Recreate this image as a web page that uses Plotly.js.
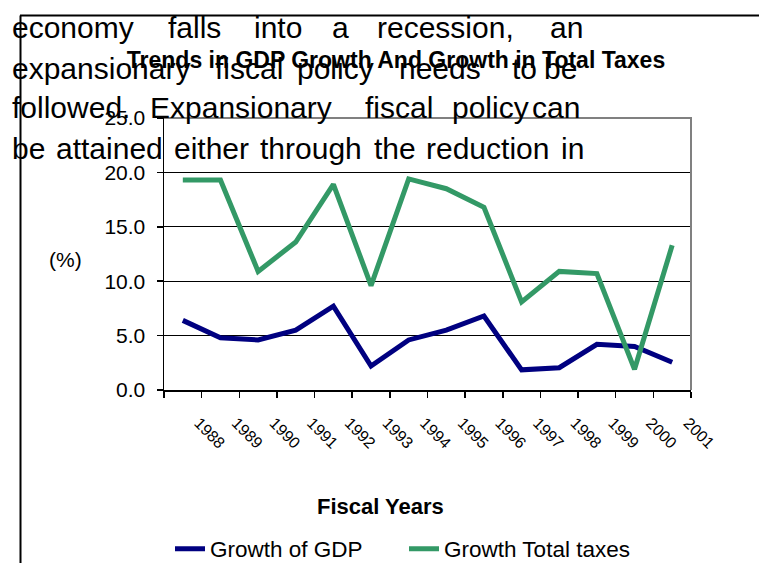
<!DOCTYPE html>
<html>
<head>
<meta charset="utf-8">
<script src="https://cdn.plot.ly/plotly-3.0.1.min.js"></script>
<style>html,body{margin:0;padding:0;background:#fff;}#chart{width:759px;height:563px;}</style>
</head>
<body>
<div id="chart"></div>
<script>
// ---- data ----
const years = ['1988','1989','1990','1991','1992','1993','1994','1995','1996','1997','1998','1999','2000','2001'];
const growthGDP = [6.4, 4.8, 4.6, 5.5, 7.7, 2.2, 4.6, 5.5, 6.8, 1.85, 2.05, 4.2, 4.0, 2.55];
const growthTaxes = [19.3, 19.3, 10.9, 13.6, 18.9, 9.6, 19.4, 18.5, 16.8, 8.1, 10.9, 10.7, 1.9, 13.3];
const seriesNames = ['Growth of GDP', 'Growth Total taxes'];
const yTicks = [0, 5, 10, 15, 20, 25];

// ---- layout helpers (pixel -> paper) ----
const W = 759, H = 563, L = 164, R = 691, T = 118, B = 390;
const px = x => (x - L) / (R - L);
const py = y => (B - y) / (B - T);
const FONT = 'Liberation Sans, Arial, sans-serif';

// overlapping document text (justified paragraph above the chart)
const docLines = [
  {y: 27, words: [['economy', 10], ['falls', 166], ['into', 252], ['a', 330], ['recession,', 375], ['an', 548]]},
  {y: 68, words: [['expansionary', 10], ['fiscal', 213], ['policy', 295], ['needs', 397], ['to', 510], ['be', 542]]},
  {y: 108, words: [['followed.', 10], ['Expansionary', 148], ['fiscal', 363], ['policy', 450], ['can', 530]]},
  {y: 148, words: [['be', 10], ['attained', 54], ['either', 172], ['through', 258], ['the', 372], ['reduction', 424], ['in', 559]]}
];

const annotations = [];
docLines.forEach(line => {
  line.words.forEach(([w, x]) => {
    annotations.push({
      text: w, xref: 'paper', yref: 'paper', x: px(x), y: py(line.y),
      xanchor: 'left', yanchor: 'middle', showarrow: false,
      font: {family: FONT, size: 30, color: '#000'}
    });
  });
});
annotations.push({
  text: '(%)', xref: 'paper', yref: 'paper', x: px(65.5), y: py(259),
  xanchor: 'center', yanchor: 'middle', showarrow: false,
  font: {family: FONT, size: 21, color: '#000'}
});
annotations.push({
  text: '<b>Fiscal Years</b>', xref: 'paper', yref: 'paper', x: px(380), y: py(506),
  xanchor: 'center', yanchor: 'middle', showarrow: false,
  font: {family: FONT, size: 22, color: '#000'}
});

const traces = [
  {x: years, y: growthGDP, name: seriesNames[0], type: 'scatter', mode: 'lines',
   line: {color: '#000080', width: 5}},
  {x: years, y: growthTaxes, name: seriesNames[1], type: 'scatter', mode: 'lines',
   line: {color: '#339966', width: 5}}
];

const layout = {
  width: W, height: H,
  margin: {l: L, r: W - R, t: T, b: H - B, pad: 0, autoexpand: false},
  paper_bgcolor: '#fff', plot_bgcolor: '#fff',
  font: {family: FONT, color: '#000'},
  title: {
    text: '<b>Trends in GDP Growth And Growth in Total Taxes</b>',
    font: {family: FONT, size: 23, color: '#000'},
    xref: 'container', yref: 'container', x: 396 / W, y: 1 - 60 / H,
    xanchor: 'center', yanchor: 'middle'
  },
  xaxis: {
    type: 'category', range: [-0.5, years.length - 0.5],
    tickson: 'boundaries', ticks: 'outside', ticklen: 6, tickwidth: 1.5, tickcolor: '#000',
    showline: true, linecolor: '#000', linewidth: 1.5,
    showgrid: false, zeroline: false, tickangle: 45,
    ticklabelstandoff: 16, ticklabelshift: 16,
    tickfont: {family: FONT, size: 16, color: '#000'},
    automargin: false
  },
  yaxis: {
    range: [0, 25], tickvals: yTicks, tickformat: '.1f',
    ticks: 'outside', ticklen: 6, tickwidth: 1.5, tickcolor: '#000',
    showline: true, linecolor: '#000', linewidth: 1.5,
    showgrid: true, gridcolor: '#000', gridwidth: 1, zeroline: false,
    ticklabelstandoff: 7,
    tickfont: {family: FONT, size: 21, color: '#000'},
    automargin: false
  },
  legend: {
    orientation: 'h', xref: 'paper', yref: 'paper',
    x: px(170), y: py(549), xanchor: 'left', yanchor: 'middle',
    entrywidth: 189, entrywidthmode: 'pixels',
    font: {family: FONT, size: 22.5, color: '#000'},
    bgcolor: 'rgba(0,0,0,0)', borderwidth: 0
  },
  shapes: [
    // plot-area border (top and right, grey)
    {type: 'path', xref: 'paper', yref: 'paper', path: 'M0,1 L1,1 L1,0',
     line: {color: '#808080', width: 2}, layer: 'above'},
    // outer chart frame (top and left)
    {type: 'line', xref: 'paper', yref: 'paper', x0: px(20), x1: px(760), y0: py(15.5), y1: py(15.5),
     line: {color: '#000', width: 2}},
    {type: 'line', xref: 'paper', yref: 'paper', x0: px(20.5), x1: px(20.5), y0: py(15.5), y1: py(565),
     line: {color: '#000', width: 2}}
  ],
  annotations: annotations,
  showlegend: true
};

Plotly.newPlot('chart', traces, layout, {displayModeBar: false, staticPlot: true});
</script>
</body>
</html>
